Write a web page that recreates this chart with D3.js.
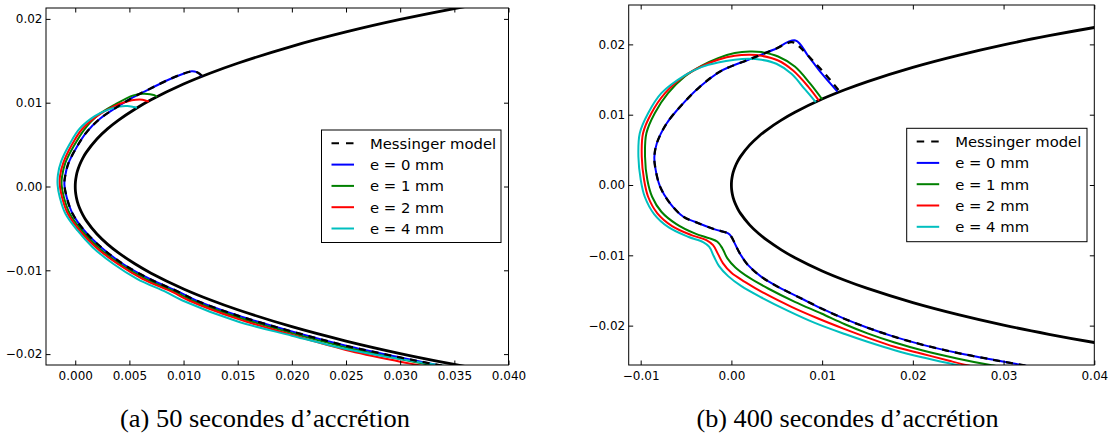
<!DOCTYPE html>
<html><head><meta charset="utf-8">
<script src="https://cdn.jsdelivr.net/npm/d3@7/dist/d3.min.js"></script>
<style>body{margin:0;background:#fff}</style>
</head><body>
<script>
// ---------------- DATA ----------------
// clean profile (leading edge contour, shared by both panels)
const airfoilX = [0.045,0.04,0.035,0.03,0.025,0.02,0.015,0.0125,0.01,0.007,0.0055,0.004,0.003,0.002,0.001,0.0007,0.0004,0.0002,0.0001,0.00002,0,
                  0.00002,0.0001,0.0002,0.0004,0.0007,0.001,0.002,0.003,0.004,0.0055,0.007,0.01,0.0125,0.015,0.02,0.025,0.03,0.035,0.04,0.045];
const airfoilY = [0.02345,0.0224,0.02123,0.01993,0.01844,0.01673,0.01471,0.01354,0.01222,0.01034,0.00922,0.00792,0.0069,0.00567,0.00404,0.00339,0.00257,0.00183,0.00129,0.00058,0,
                  -0.00058,-0.00129,-0.00183,-0.00257,-0.00339,-0.00404,-0.00567,-0.0069,-0.00792,-0.00922,-0.01034,-0.01222,-0.01354,-0.01471,-0.01673,-0.01844,-0.01993,-0.02123,-0.0224,-0.02345];

// panel (a) : 50 s
const a_messinger = [[0.0117,0.0132],[0.0113,0.0136],[0.0108,0.01372],[0.0100,0.01348],[0.00845,0.01265],[0.0069,0.01166],[0.00536,0.01066],[0.00383,0.00946],[0.00228,0.00808],[0.00105,0.00648],[0.00013,0.00469],[-0.00065,0.00271],[-0.00095,0.00111],[-0.001,0.0002],[-0.00079,-0.00128],[-0.00024,-0.00326],[0.00083,-0.00525],[0.00238,-0.00724],[0.00438,-0.00922],[0.00684,-0.01101],[0.00961,-0.01261],[0.01116,-0.0136],[0.015,-0.0154],[0.02,-0.0173],[0.025,-0.019],[0.03,-0.0204],[0.0335,-0.0213],[0.036,-0.0219]];
const a_e0 = [[0.01168,0.01316],[0.01122,0.01364],[0.01076,0.01376],[0.00998,0.01345],[0.00845,0.01265],[0.0069,0.01166],[0.00536,0.01066],[0.00383,0.00946],[0.00228,0.00808],[0.00105,0.00648],[0.00013,0.00469],[-0.00065,0.00271],[-0.00095,0.00111],[-0.001,0.0002],[-0.00079,-0.00128],[-0.00024,-0.00326],[0.00083,-0.00525],[0.00238,-0.00724],[0.00438,-0.00922],[0.00684,-0.01101],[0.00961,-0.01261],[0.01116,-0.0136],[0.015,-0.0154],[0.02,-0.0173],[0.025,-0.019],[0.03,-0.0204],[0.0334,-0.0213],[0.036,-0.022]];
const a_e1 = [[0.00755,0.01069],[0.0073,0.0109],[0.0069,0.01102],[0.0062,0.01106],[0.0053,0.01085],[0.0037,0.0098],[0.00203,0.00844],[0.0008,0.00674],[-0.0001,0.0049],[-0.00091,0.00284],[-0.00122,0.00118],[-0.00126,0.0002],[-0.00105,-0.00128],[-0.0005,-0.00326],[0.0006,-0.00525],[0.0021,-0.00724],[0.0041,-0.00922],[0.0065,-0.01101],[0.0093,-0.01261],[0.0108,-0.0136],[0.015,-0.0156],[0.02,-0.0175],[0.025,-0.0192],[0.03,-0.0206],[0.0328,-0.0213],[0.035,-0.0219]];
const a_e2 = [[0.0068,0.01015],[0.0066,0.0102],[0.0062,0.01035],[0.0056,0.01035],[0.0048,0.01015],[0.0036,0.0096],[0.002,0.0084],[0.0006,0.0068],[-0.0003,0.005],[-0.00108,0.0029],[-0.0014,0.0013],[-0.00143,0.0002],[-0.00122,-0.00128],[-0.00068,-0.00326],[0.0004,-0.00525],[0.0019,-0.00724],[0.0039,-0.00922],[0.0062,-0.01101],[0.009,-0.01261],[0.0105,-0.0136],[0.015,-0.0158],[0.02,-0.0177],[0.025,-0.0195],[0.03,-0.0209],[0.0316,-0.0213],[0.034,-0.0219]];
const a_e4 = [[0.0057,0.0094],[0.0054,0.00948],[0.0048,0.0096],[0.0041,0.00955],[0.0031,0.0092],[0.0018,0.0084],[0.0004,0.0069],[-0.0005,0.0051],[-0.0013,0.003],[-0.0016,0.0014],[-0.00163,0.0002],[-0.00143,-0.00128],[-0.0009,-0.00326],[0.0002,-0.00525],[0.0016,-0.00724],[0.0035,-0.00922],[0.0057,-0.01101],[0.0084,-0.01261],[0.0099,-0.0136],[0.015,-0.0161],[0.02,-0.0178],[0.025,-0.0194],[0.03,-0.0206],[0.0335,-0.0213],[0.036,-0.0218]];

// panel (b) : 400 s
const b_messinger = [[0.0118,0.0135],[0.0105,0.01555],[0.009,0.01765],[0.0076,0.01955],[0.0071,0.02015],[0.0066,0.02032],[0.00463,0.01923],[0.00206,0.01791],[-0.00125,0.01614],[-0.00345,0.014],[-0.00529,0.01164],[-0.00712,0.00879],[-0.00822,0.00594],[-0.00849,0.00403],[-0.00841,0.00261],[-0.00786,-0.00024],[-0.00676,-0.00261],[-0.00529,-0.00452],[-0.00404,-0.00523],[-0.00183,-0.00631],[-0.00036,-0.00688],[0.0,-0.00736],[0.00037,-0.0083],[0.00093,-0.00973],[0.00184,-0.0114],[0.00331,-0.01306],[0.00515,-0.01449],[0.00772,-0.01614],[0.00992,-0.01756],[0.0125,-0.01905],[0.015,-0.0203],[0.018,-0.0216],[0.021,-0.0227],[0.025,-0.0239],[0.029,-0.0249],[0.032,-0.0256],[0.034,-0.0261]];
const b_e0 = [[0.01169,0.01329],[0.00997,0.01583],[0.00845,0.01838],[0.00706,0.02056],[0.00463,0.01923],[0.00206,0.01791],[-0.00125,0.01614],[-0.00345,0.014],[-0.00529,0.01164],[-0.00712,0.00879],[-0.00822,0.00594],[-0.00849,0.00403],[-0.00841,0.00261],[-0.00786,-0.00024],[-0.00676,-0.00261],[-0.00529,-0.00452],[-0.00404,-0.00523],[-0.00183,-0.00631],[-0.00036,-0.00688],[0.0,-0.00736],[0.00037,-0.0083],[0.00093,-0.00973],[0.00184,-0.0114],[0.00331,-0.01306],[0.00515,-0.01449],[0.00772,-0.01614],[0.00992,-0.01756],[0.0125,-0.01905],[0.015,-0.0203],[0.018,-0.0216],[0.021,-0.0227],[0.025,-0.0239],[0.029,-0.0249],[0.032,-0.0256],[0.034,-0.0261]];
const b_e1 = [[0.01,0.0122],[0.00864,0.01449],[0.00699,0.01685],[0.00515,0.01828],[0.00331,0.0189],[0.00203,0.01899],[0.00037,0.01876],[-0.00147,0.01805],[-0.00331,0.01695],[-0.00514,0.01543],[-0.00698,0.01306],[-0.00845,0.01021],[-0.00937,0.00736],[-0.00952,0.00403],[-0.00926,0.00071],[-0.00874,-0.00167],[-0.00772,-0.0038],[-0.00606,-0.00556],[-0.00404,-0.00688],[-0.00238,-0.0076],[-0.00154,-0.00807],[-0.00099,-0.00902],[-0.00044,-0.01044],[0.00044,-0.01173],[0.00192,-0.01315],[0.00405,-0.01472],[0.00699,-0.01662],[0.00992,-0.01828],[0.0125,-0.0198],[0.015,-0.0211],[0.018,-0.0224],[0.021,-0.0235],[0.025,-0.0247],[0.0287,-0.02564],[0.031,-0.0261]];
const b_e2 = [[0.00965,0.012],[0.00846,0.014],[0.0068,0.01628],[0.00515,0.01771],[0.00331,0.01838],[0.00203,0.01852],[0.00037,0.01838],[-0.00147,0.01781],[-0.00331,0.01685],[-0.00514,0.01553],[-0.00731,0.01306],[-0.00882,0.01021],[-0.00974,0.00736],[-0.00988,0.00403],[-0.00962,0.00071],[-0.00918,-0.00167],[-0.00816,-0.00403],[-0.00654,-0.00584],[-0.00441,-0.00712],[-0.00276,-0.00783],[-0.00202,-0.00855],[-0.00147,-0.00983],[-0.00092,-0.01115],[0.0,-0.01249],[0.00148,-0.01377],[0.00368,-0.01543],[0.00662,-0.01733],[0.00956,-0.01899],[0.0125,-0.0205],[0.015,-0.0217],[0.018,-0.0230],[0.021,-0.0240],[0.024,-0.0250],[0.026,-0.02564],[0.028,-0.0262]];
const b_e4 = [[0.0093,0.0118],[0.00809,0.01363],[0.00662,0.01581],[0.00496,0.01724],[0.00331,0.01781],[0.00184,0.01795],[0.00037,0.01781],[-0.00147,0.01742],[-0.00331,0.01677],[-0.00514,0.0156],[-0.00772,0.01306],[-0.00918,0.01021],[-0.0101,0.00736],[-0.01025,0.00403],[-0.00999,0.00071],[-0.00955,-0.00167],[-0.00852,-0.00413],[-0.0069,-0.00603],[-0.00477,-0.00736],[-0.00312,-0.00812],[-0.00246,-0.00878],[-0.00191,-0.01021],[-0.00136,-0.01154],[-0.00036,-0.01296],[0.0011,-0.01439],[0.00331,-0.016],[0.00625,-0.0179],[0.00919,-0.01961],[0.0125,-0.0212],[0.015,-0.0223],[0.018,-0.0235],[0.021,-0.0245],[0.025,-0.02564],[0.027,-0.0262]];

// ticks
const a_xTicks = [0,0.005,0.01,0.015,0.02,0.025,0.03,0.035,0.04];
const a_xLabels = ["0.000","0.005","0.010","0.015","0.020","0.025","0.030","0.035","0.040"];
const a_yTicks = [0.02,0.01,0,-0.01,-0.02];
const a_yLabels = ["0.02","0.01","0.00","\u22120.01","\u22120.02"];
const b_xTicks = [-0.01,0,0.01,0.02,0.03,0.04];
const b_xLabels = ["\u22120.01","0.00","0.01","0.02","0.03","0.04"];
const b_yTicks = [0.02,0.01,0,-0.01,-0.02];
const b_yLabels = ["0.02","0.01","0.00","\u22120.01","\u22120.02"];

const legendLabels = ["Messinger model","e = 0 mm","e = 1 mm","e = 2 mm","e = 4 mm"];
const seriesColors = ["#000000","#0000ff","#008000","#ff0000","#00bfbf"];
const captions = ["(a) 50 secondes d\u2019accr\u00e9tion","(b) 400 secondes d\u2019accr\u00e9tion"];

// ---------------- DRAW ----------------
const svg = d3.select("body").append("svg").attr("width",1112).attr("height",435);
const airfoil = d3.zip(airfoilX, airfoilY);

function drawPanel(p){
  const x = d3.scaleLinear().domain(p.xDomain).range([p.left,p.right]);
  const y = d3.scaleLinear().domain(p.yDomain).range([p.bottom,p.top]);
  const g = svg.append("g");
  svg.append("clipPath").attr("id","clip"+p.id).append("rect")
    .attr("x",p.left).attr("y",p.top).attr("width",p.right-p.left).attr("height",p.bottom-p.top);
  const line = d3.line().x(d=>x(d[0])).y(d=>y(d[1])).curve(d3.curveCatmullRom.alpha(0.5));
  const plot = g.append("g").attr("clip-path","url(#clip"+p.id+")");
  plot.append("path").datum(airfoil).attr("d",line).attr("fill","none").attr("stroke","#000").attr("stroke-width",2.8);
  const order = [1,2,3,4,0];
  order.forEach(i=>{
    plot.append("path").datum(p.series[i]).attr("d",line).attr("fill","none")
      .attr("stroke",seriesColors[i]).attr("stroke-width", i===0?2.3:2)
      .attr("stroke-dasharray", i===0?"7,6":null).attr("stroke-linejoin","round");
  });
  const fmt = (ticks,labels)=> (d)=> labels[ticks.indexOf(d)];
  const styleAxis = sel => { sel.select(".domain").remove(); sel.selectAll("text").attr("font-family","DejaVu Sans").attr("font-size",12).attr("fill","#000"); sel.selectAll("line").attr("stroke","#000"); };
  g.append("g").attr("transform",`translate(0,${p.bottom})`)
    .call(d3.axisBottom(x).tickValues(p.xTicks).tickFormat(fmt(p.xTicks,p.xLabels)).tickSizeInner(-4.5).tickSizeOuter(0).tickPadding(6)).call(styleAxis);
  g.append("g").attr("transform",`translate(0,${p.top})`)
    .call(d3.axisTop(x).tickValues(p.xTicks).tickFormat("").tickSizeInner(-4.5).tickSizeOuter(0)).call(styleAxis);
  g.append("g").attr("transform",`translate(${p.left},0)`)
    .call(d3.axisLeft(y).tickValues(p.yTicks).tickFormat(fmt(p.yTicks,p.yLabels)).tickSizeInner(-4.5).tickSizeOuter(0).tickPadding(3.5)).call(styleAxis);
  g.append("g").attr("transform",`translate(${p.right},0)`)
    .call(d3.axisRight(y).tickValues(p.yTicks).tickFormat("").tickSizeInner(-4.5).tickSizeOuter(0)).call(styleAxis);
  g.append("rect").attr("x",p.left).attr("y",p.top).attr("width",p.right-p.left).attr("height",p.bottom-p.top)
    .attr("fill","none").attr("stroke","#000").attr("stroke-width",1);
  const L = g.append("g");
  L.append("rect").attr("x",p.leg.x).attr("y",p.leg.y).attr("width",p.leg.w).attr("height",p.leg.h)
    .attr("fill","#fff").attr("stroke","#000").attr("stroke-width",1);
  legendLabels.forEach((lab,i)=>{
    const yy = p.leg.y + 13.3 + i*21.3;
    L.append("line").attr("x1",p.leg.x+10).attr("x2",p.leg.x+32.5).attr("y1",yy).attr("y2",yy)
      .attr("stroke",seriesColors[i]).attr("stroke-width",2)
      .attr("stroke-dasharray", i===0?"7.5,7":null);
    L.append("text").attr("x",p.leg.x+48.5).attr("y",yy).attr("dy","0.36em")
      .attr("font-family","DejaVu Sans").attr("font-size",14.8).attr("fill","#000").text(lab);
  });
  g.append("text").attr("x",p.capX).attr("y",427).attr("text-anchor","middle")
    .attr("font-family","Liberation Serif").attr("font-size",26)
    .attr("textLength",p.capW).attr("lengthAdjust","spacingAndGlyphs").text(p.caption);
}

drawPanel({id:"a", left:46, right:508.5, top:8, bottom:365,
  xDomain:[-0.0027,0.040], yDomain:[-0.0213,0.0213],
  xTicks:a_xTicks, xLabels:a_xLabels, yTicks:a_yTicks, yLabels:a_yLabels,
  series:[a_messinger,a_e0,a_e1,a_e2,a_e4],
  leg:{x:321.5,y:130,w:179.5,h:112.5}, caption:captions[0], capX:265, capW:290});

drawPanel({id:"b", left:628.7, right:1094.3, top:5, bottom:365,
  xDomain:[-0.01132,0.04], yDomain:[-0.0256,0.0256],
  xTicks:b_xTicks, xLabels:b_xLabels, yTicks:b_yTicks, yLabels:b_yLabels,
  series:[b_messinger,b_e0,b_e1,b_e2,b_e4],
  leg:{x:906.7,y:128.3,w:180.3,h:113.4}, caption:captions[1], capX:847.5, capW:302});
</script>
</body></html>
